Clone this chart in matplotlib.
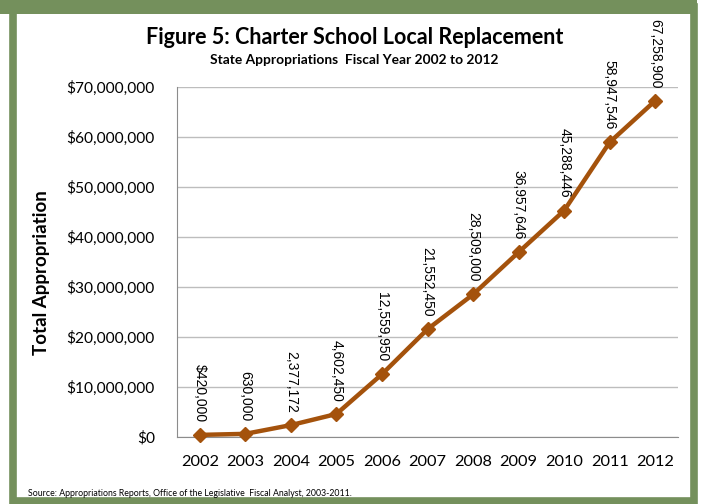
import matplotlib.pyplot as plt
from matplotlib.patches import Rectangle
from matplotlib.ticker import FuncFormatter

# Fiscal years and appropriations
years = ['2002', '2003', '2004', '2005', '2006', '2007', '2008', '2009', '2010', '2011', '2012']
amounts = [420000, 630000, 2377172, 4602450, 12559950, 21552450, 28509000,
           36957646, 45288446, 58947546, 67258900]
point_labels = ['$420,000', '630,000', '2,377,172', '4,602,450', '12,559,950', '21,552,450',
                '28,509,000', '36,957,646', '45,288,446', '58,947,546', '67,258,900']

line_color = '#A4520C'
frame_color = '#74905C'
font = 'Lato'

fig = plt.figure(figsize=(7.01, 5.04), dpi=100)
ax = fig.add_axes([177 / 701, 1 - 437 / 504, 501 / 701, 350 / 504])

x = list(range(len(years)))
ax.plot(x, amounts, color=line_color, lw=3.2, marker='D', markersize=7,
        clip_on=False, zorder=3)

for xi, yi, lab in zip(x, amounts, point_labels):
    ax.annotate(lab, (xi, yi), xytext=(0, 9), textcoords='offset points',
                rotation=270, ha='center', va='bottom', fontsize=10,
                family='Liberation Sans', annotation_clip=False)

ax.set_xlim(-0.5, len(years) - 0.5)
ax.set_ylim(0, 70000000)
ax.set_yticks(range(0, 70000001, 10000000))
ax.yaxis.set_major_formatter(FuncFormatter(lambda v, p: '${:,.0f}'.format(v)))
ax.set_xticks(x)
ax.set_xticklabels(years)
ax.tick_params(length=0)
ax.tick_params(axis='y', pad=16, labelsize=11.2)
ax.tick_params(axis='x', pad=13, labelsize=11.8)
for t in ax.get_xticklabels() + ax.get_yticklabels():
    t.set_family(font)

ax.grid(axis='y', color='#BDBDBD', lw=1)
ax.set_axisbelow(True)
for s in ['top', 'right']:
    ax.spines[s].set_visible(False)
ax.spines['left'].set_color('#8C8C8C')
ax.spines['bottom'].set_color('#8C8C8C')

ax.set_ylabel('Total Appropriation', fontsize=13.5, fontweight='bold', family=font)
ax.yaxis.set_label_coords(-0.2535, 0.471)

fig.text(355 / 701, 1 - 38 / 504, 'Figure 5: Charter School Local Replacement',
         ha='center', va='center', fontsize=15.5, fontweight='bold', family=font)
fig.text(354 / 701, 1 - 60 / 504, 'State Appropriations  Fiscal Year 2002 to 2012',
         ha='center', va='center', fontsize=9.9, fontweight='bold', family=font)
fig.text(28 / 701, 1 - 493 / 504,
         'Source: Appropriations Reports, Office of the Legislative  Fiscal Analyst, 2003-2011.',
         ha='left', va='center', fontsize=6.3, family=font)

# green frame around the chart
fig.patches.append(Rectangle((13.5 / 701, 3.5 / 504), 680 / 701, 494 / 504,
                             transform=fig.transFigure, fill=False,
                             edgecolor=frame_color, lw=5.5))
fig.patches.append(Rectangle((0, 1 - 14 / 504), 697 / 701, 14 / 504,
                             transform=fig.transFigure, color=frame_color, lw=0))

fig.savefig('out.png', dpi=100)
